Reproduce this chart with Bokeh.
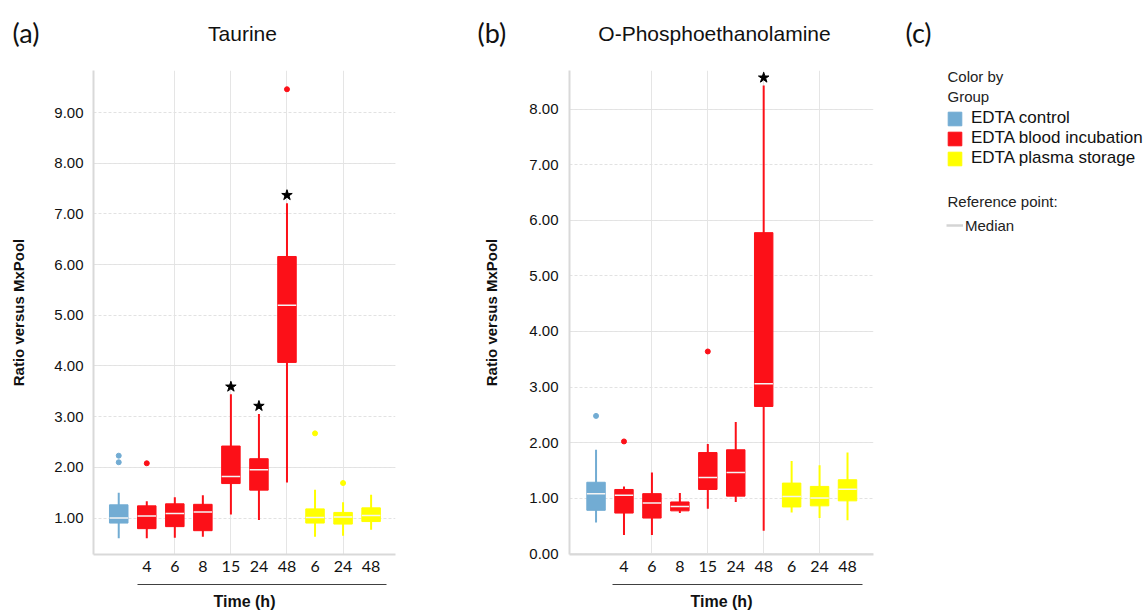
from bokeh.plotting import figure
from bokeh.models import (Range1d, FixedTicker, LinearAxis, Label, Legend, LegendItem,
                          ColumnDataSource, NumeralTickFormatter, Grid)
from bokeh.layouts import row, column
from bokeh.embed import file_html
from bokeh.resources import INLINE

tick_labels = ["", "4", "6", "8", "15", "24", "48", "6", "24", "48"]
groups = ["EDTA control"] + ["EDTA blood incubation"] * 6 + ["EDTA plasma storage"] * 3
group_names = ["EDTA control", "EDTA blood incubation", "EDTA plasma storage"]
group_colors = ["#72acd3", "#fc1018", "#ffff00"]

# Taurine
tau_q1 = [0.90, 0.79, 0.83, 0.75, 1.68, 1.55, 4.07, 0.90, 0.88, 0.93]
tau_q3 = [1.26, 1.24, 1.28, 1.27, 2.42, 2.17, 6.16, 1.18, 1.11, 1.20]
tau_med = [1.00, 1.04, 1.09, 1.12, 1.82, 1.95, 5.20, 1.01, 1.02, 1.05]
tau_lo = [0.60, 0.60, 0.61, 0.63, 1.07, 0.96, 1.70, 0.63, 0.65, 0.77]
tau_hi = [1.50, 1.33, 1.41, 1.45, 3.44, 3.05, 7.21, 1.56, 1.31, 1.46]
tau_out_idx = [0, 0, 1, 6, 7, 8]
tau_out_val = [2.23, 2.10, 2.08, 9.46, 2.67, 1.69]
tau_star_idx = [4, 5, 6]
tau_star_val = [3.59, 3.21, 7.37]
tau_yticks = [1, 2, 3, 4, 5, 6, 7, 8, 9]

# O-Phosphoethanolamine
pea_q1 = [0.78, 0.73, 0.64, 0.77, 1.155, 1.035, 2.65, 0.84, 0.86, 0.95]
pea_q3 = [1.285, 1.155, 1.08, 0.93, 1.82, 1.87, 5.78, 1.27, 1.21, 1.33]
pea_med = [1.08, 1.05, 0.91, 0.85, 1.37, 1.46, 3.06, 1.03, 1.00, 1.16]
pea_lo = [0.56, 0.335, 0.335, 0.73, 0.81, 0.93, 0.41, 0.74, 0.64, 0.60]
pea_hi = [1.87, 1.21, 1.46, 1.09, 1.975, 2.37, 8.43, 1.67, 1.59, 1.82]
pea_out_idx = [0, 1, 4]
pea_out_val = [2.48, 2.02, 3.64]
pea_star_idx = [6]
pea_star_val = [8.57]
pea_yticks = [0, 1, 2, 3, 4, 5, 6, 7, 8]

panel_tags = ["(a)", "(b)", "(c)"]
panel_titles = ["Taurine", "O-Phosphoethanolamine"]

color_of = dict(zip(group_names, group_colors))
AX_FONT = "Liberation Sans"
TAG_FONT = "Lato"
HEADER_H = 55
LEFT_W = 890
NAN = float("nan")


def panel(q1, q3, med, lo, hi, oi, ov, si, sv, yticks, yr, xr, bounds,
          width, mb_left, mb_right, mb_top, mb_bottom, tick_standoff, ylab_standoff):
    n = len(tick_labels)
    xs = list(range(n))
    cols = [color_of[g] for g in groups]
    src = ColumnDataSource(dict(x=xs, q1=q1, q3=q3, med=med, lo=lo, hi=hi,
                                color=cols, group=groups,
                                x0=[x - 0.33 for x in xs], x1=[x + 0.33 for x in xs]))
    p = figure(width=width, height=612 - HEADER_H, x_range=Range1d(*xr), y_range=Range1d(*yr),
               output_backend="svg", toolbar_location=None,
               x_axis_location=None, y_axis_location=None,
               min_border_left=mb_left, min_border_right=mb_right,
               min_border_top=mb_top, min_border_bottom=mb_bottom)
    p.outline_line_color = None
    p.background_fill_color = "white"
    p.border_fill_color = "white"

    yaxis = LinearAxis(ticker=FixedTicker(ticks=yticks),
                       formatter=NumeralTickFormatter(format="0.00"),
                       axis_label="Ratio versus MxPool")
    yaxis.axis_line_color = "#d9d9d9"
    yaxis.axis_line_width = 2
    yaxis.major_tick_line_color = None
    yaxis.minor_tick_line_color = None
    yaxis.major_label_standoff = tick_standoff
    yaxis.major_label_text_font = AX_FONT
    yaxis.major_label_text_font_size = "15px"
    yaxis.major_label_text_color = "#111111"
    yaxis.axis_label_text_font = AX_FONT
    yaxis.axis_label_text_font_style = "bold"
    yaxis.axis_label_text_font_size = "15px"
    yaxis.axis_label_text_color = "#111111"
    yaxis.axis_label_standoff = ylab_standoff
    p.add_layout(yaxis, "left")

    xaxis = LinearAxis(ticker=FixedTicker(ticks=xs[1:]),
                       major_label_overrides={i: tick_labels[i] for i in xs},
                       axis_label=" ")
    xaxis.axis_line_color = "#d9d9d9"
    xaxis.axis_line_width = 2
    xaxis.major_tick_line_color = None
    xaxis.minor_tick_line_color = None
    xaxis.major_label_standoff = 0
    xaxis.major_label_text_font = TAG_FONT
    xaxis.major_label_text_font_size = "16px"
    xaxis.major_label_text_color = "#111111"
    xaxis.axis_label_text_font_size = "1px"
    xaxis.axis_label_standoff = 6
    p.add_layout(xaxis, "below")

    xaxis2 = LinearAxis(ticker=FixedTicker(ticks=[]), bounds=bounds,
                        axis_label="Time (h)")
    xaxis2.axis_line_color = "#404040"
    xaxis2.axis_line_width = 1
    xaxis2.major_tick_line_color = None
    xaxis2.minor_tick_line_color = None
    xaxis2.major_label_text_font_size = "0px"
    xaxis2.axis_label_standoff = 8
    xaxis2.axis_label_text_font = AX_FONT
    xaxis2.axis_label_text_font_style = "bold"
    xaxis2.axis_label_text_font_size = "16px"
    xaxis2.axis_label_text_color = "#111111"
    p.add_layout(xaxis2, "below")

    grid = Grid(dimension=1, ticker=yaxis.ticker, grid_line_color="#e2e2e2",
                grid_line_dash="3 2", grid_line_width=1)
    p.add_layout(grid)

    p.segment(x0="x", y0="lo", x1="x", y1="hi", source=src, line_color="color",
              line_width=2)
    p.vbar(x="x", width=0.66, bottom="q1", top="q3", source=src,
           fill_color="color", line_color="color", line_width=1)
    p.segment(x0="x0", y0="med", x1="x1", y1="med", source=src,
              line_color="#f4f4f4", line_width=1.5)
    osrc = ColumnDataSource(dict(x=oi, y=ov, color=[cols[i] for i in oi]))
    p.scatter(x="x", y="y", source=osrc, size=5, fill_color="color",
              line_color="color", marker="circle")
    ssrc = ColumnDataSource(dict(x=si, y=sv))
    p.scatter(x="x", y="y", source=ssrc, size=11, marker="star",
              fill_color="black", line_color="black")
    return p


# ---- header with panel tags and titles (a), (b) ----
header = figure(width=LEFT_W, height=HEADER_H, x_range=Range1d(0, LEFT_W),
                y_range=Range1d(HEADER_H, 0), output_backend="svg",
                toolbar_location=None, x_axis_location=None, y_axis_location=None,
                min_border=0)
header.outline_line_color = None
header.grid.visible = False
for tag, tx in zip(panel_tags[:2], [12, 477]):
    header.add_layout(Label(x=tx, y=32, text=tag, text_font=TAG_FONT,
                            text_font_size="27px", text_baseline="middle",
                            text_align="left", text_color="#111111"))
for ttl, tx in zip(panel_titles, [242, 714]):
    header.add_layout(Label(x=tx, y=33, text=ttl, text_font=AX_FONT,
                            text_font_size="21px", text_baseline="middle",
                            text_align="center", text_color="#111111"))

pa = panel(tau_q1, tau_q3, tau_med, tau_lo, tau_hi, tau_out_idx, tau_out_val,
           tau_star_idx, tau_star_val, tau_yticks, (0.28, 9.83), (-0.90, 9.87),
           (0.66, 9.55), 480, 93, 85, 70 - HEADER_H, 53, 4, 24)

pb = panel(pea_q1, pea_q3, pea_med, pea_lo, pea_hi, pea_out_idx, pea_out_val,
           pea_star_idx, pea_star_val, pea_yticks, (-0.016, 8.70), (-0.95, 9.93),
           (0.60, 9.53), LEFT_W - 480, 88, 17, 70 - HEADER_H, 53, 5, 26)

# ---- panel (c): legend ----
CW = 1145 - LEFT_W
pc = figure(width=CW, height=612, x_range=Range1d(0, CW), y_range=Range1d(612, 0),
            output_backend="svg", toolbar_location=None, x_axis_location=None,
            y_axis_location=None, min_border=0)
pc.outline_line_color = None
pc.grid.visible = False
pc.add_layout(Label(x=905 - LEFT_W, y=32, text=panel_tags[2], text_font=TAG_FONT,
                    text_font_size="27px", text_baseline="middle", text_color="#111111"))
for txt, yy in [("Color by", 76), ("Group", 96), ("Reference point:", 201)]:
    pc.add_layout(Label(x=947 - LEFT_W, y=yy, text=txt, text_font=AX_FONT,
                        text_font_size="15px", text_baseline="middle",
                        text_color="#222222"))

# legend swatch renderers (no visible marks: NaN positions, one row per group)
gsrc = ColumnDataSource(dict(x=[NAN] * len(group_names), top=[NAN] * len(group_names),
                             color=group_colors, group=group_names))
sw = pc.vbar(x="x", top="top", width=1, source=gsrc, fill_color="color",
             line_color="color")
leg1 = Legend(items=[LegendItem(label=g, renderers=[sw], index=i)
                     for i, g in enumerate(group_names)],
              location=(946 - LEFT_W, 612 - 168))
leg1.glyph_width = 17
leg1.glyph_height = 17
leg1.label_height = 17
leg1.spacing = 0
leg1.padding = 0
leg1.margin = 0
leg1.label_standoff = 8
leg1.label_text_font = AX_FONT
leg1.label_text_font_size = "17px"
leg1.label_text_line_height = 1.0
leg1.label_text_color = "#111111"
leg1.border_line_color = None
leg1.background_fill_alpha = 0
pc.add_layout(leg1)

msrc = ColumnDataSource(dict(x0=[NAN], y0=[NAN], x1=[NAN], y1=[NAN]))
med_sw = pc.segment(x0="x0", y0="y0", x1="x1", y1="y1", source=msrc,
                    line_color="#d4d4d4", line_width=2.5)
leg2 = Legend(items=[LegendItem(label="Median", renderers=[med_sw], index=0)],
              location=(946 - LEFT_W, 612 - 234))
leg2.glyph_width = 17
leg2.glyph_height = 18
leg2.label_height = 18
leg2.padding = 0
leg2.margin = 0
leg2.label_standoff = 2
leg2.label_text_font = AX_FONT
leg2.label_text_font_size = "15px"
leg2.label_text_line_height = 1.0
leg2.label_text_color = "#222222"
leg2.border_line_color = None
leg2.background_fill_alpha = 0
pc.add_layout(leg2)

layout = row(column(header, row(pa, pb)), pc)
open("out.html", "w").write(file_html(layout, INLINE))
